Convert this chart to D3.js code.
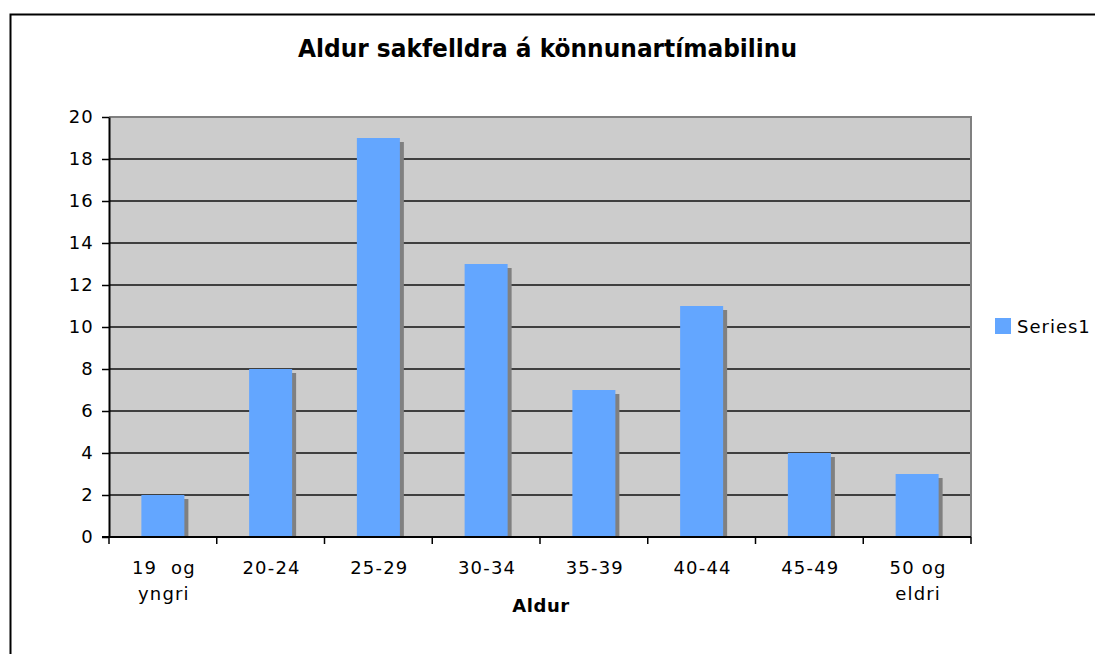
<!doctype html>
<html>
<head>
<meta charset="utf-8">
<title>Aldur sakfelldra</title>
<script src="https://d3js.org/d3.v7.min.js"></script>
<style>
  body { margin: 0; background: #fff; }
  text { font-family: "DejaVu Sans", Verdana, sans-serif; fill: #000; }
</style>
</head>
<body>
<svg width="1095" height="654"></svg>
<script>
var categories = [["19  og", "yngri"], ["20-24"], ["25-29"], ["30-34"], ["35-39"], ["40-44"], ["45-49"], ["50 og", "eldri"]];
var values = [2, 8, 19, 13, 7, 11, 4, 3];
var yTicks = [0, 2, 4, 6, 8, 10, 12, 14, 16, 18, 20];
var seriesName = "Series1";

var svg = d3.select("svg");

// outer frame
svg.append("rect")
  .attr("x", 10.5).attr("y", 14.5)
  .attr("width", 1100).attr("height", 700)
  .attr("fill", "none").attr("stroke", "#000").attr("stroke-width", 2);

var pl = 109, pr = 971, pt = 117, pb = 537;

var x = d3.scaleBand().domain(d3.range(values.length)).range([pl, pr]);
var y = d3.scaleLinear().domain([0, 20]).range([pb, pt]);

svg.append("rect")
  .attr("x", pl).attr("y", pt)
  .attr("width", pr - pl).attr("height", pb - pt)
  .attr("fill", "#cccccc");

// gridlines
svg.append("g").selectAll("line")
  .data(yTicks.filter(function(d) { return d > 0 && d < 20; }))
  .enter().append("line")
  .attr("x1", pl).attr("x2", pr)
  .attr("y1", function(d) { return y(d); })
  .attr("y2", function(d) { return y(d); })
  .attr("stroke", "#111").attr("stroke-width", 1.3);

// plot border top/right
svg.append("path")
  .attr("d", "M" + pl + "," + pt + "H" + pr + "V" + pb)
  .attr("fill", "none").attr("stroke", "#808080").attr("stroke-width", 2);

var bw = 43;
var bars = svg.append("g").selectAll("g")
  .data(values).enter().append("g");

// shadow
bars.append("rect")
  .attr("x", function(d, i) { return x(i) + x.bandwidth() / 2 - bw / 2 + 4; })
  .attr("y", function(d) { return y(d) + 4; })
  .attr("width", bw)
  .attr("height", function(d) { return pb - y(d) - 4; })
  .attr("fill", "#808080");

bars.append("rect")
  .attr("x", function(d, i) { return x(i) + x.bandwidth() / 2 - bw / 2; })
  .attr("y", function(d) { return y(d); })
  .attr("width", bw)
  .attr("height", function(d) { return pb - y(d); })
  .attr("fill", "#63a6ff");

// y axis
var yAxis = svg.append("g")
  .attr("transform", "translate(" + pl + ",0)")
  .call(d3.axisLeft(y).tickValues(yTicks).tickSize(7).tickSizeOuter(0).tickPadding(8));
yAxis.select(".domain").attr("stroke", "#000").attr("stroke-width", 2);
yAxis.selectAll(".tick line").attr("stroke", "#000").attr("stroke-width", 1.5);
yAxis.selectAll("text").style("font-size", "18px").style("letter-spacing", "1.2px")
  .style("font-family", "'DejaVu Sans', Verdana, sans-serif").attr("fill", "#000");

// x axis
var xAxis = svg.append("g")
  .attr("transform", "translate(0," + pb + ")");
xAxis.append("line")
  .attr("x1", pl - 7).attr("x2", pr)
  .attr("stroke", "#000").attr("stroke-width", 2);
xAxis.selectAll(".tk")
  .data(d3.range(values.length + 1))
  .enter().append("line")
  .attr("x1", function(d) { return pl + d * x.step(); })
  .attr("x2", function(d) { return pl + d * x.step(); })
  .attr("y1", 0).attr("y2", 7)
  .attr("stroke", "#000").attr("stroke-width", 1.5);

var labels = svg.append("g").selectAll("text")
  .data(categories).enter().append("text")
  .attr("text-anchor", "middle")
  .attr("x", function(d, i) { return x(i) + x.bandwidth() / 2 + 1; })
  .attr("y", 574)
  .style("font-size", "18px")
  .style("letter-spacing", "1.2px")
  .style("white-space", "pre");
labels.selectAll("tspan")
  .data(function(d) { return d; })
  .enter().append("tspan")
  .attr("x", function() { return this.parentNode.getAttribute("x"); })
  .attr("dy", function(d, i) { return i === 0 ? 0 : 26; })
  .text(function(d) { return d; });

// title
svg.append("text")
  .attr("x", 298).attr("y", 57)
  .attr("textLength", 499).attr("lengthAdjust", "spacingAndGlyphs")
  .style("font-size", "25px").style("font-weight", "bold")
  .text("Aldur sakfelldra á könnunartímabilinu");

svg.append("text")
  .attr("x", 541).attr("y", 612)
  .attr("text-anchor", "middle")
  .style("font-size", "18px").style("font-weight", "bold")
  .style("letter-spacing", "0.6px")
  .text("Aldur");

// legend
var lg = svg.append("g").attr("transform", "translate(995,318)");
lg.append("rect").attr("width", 16).attr("height", 16).attr("fill", "#63a6ff");
lg.append("text").attr("x", 22).attr("y", 15).style("font-size", "18px")
  .style("letter-spacing", "1px").text(seriesName);
</script>
</body>
</html>
